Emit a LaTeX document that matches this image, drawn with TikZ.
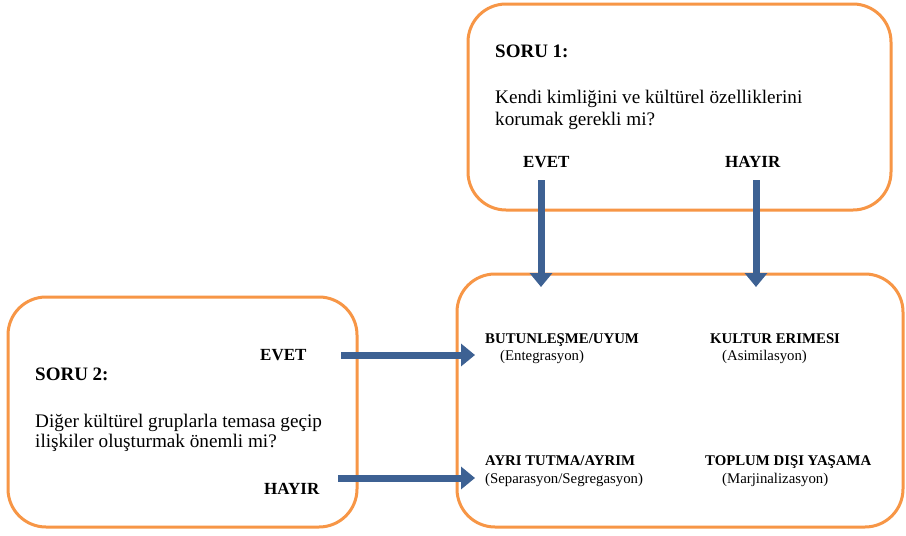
\documentclass[tikz,border=0pt]{standalone}
\usepackage{fontspec}
\setmainfont{Liberation Serif}
\usetikzlibrary{arrows.meta}
\definecolor{boxorange}{HTML}{F79646}
\definecolor{arrowblue}{HTML}{3D6193}
\tikzset{
  qbox/.style={draw=boxorange, line width=3pt, rounded corners=38pt},
  bigtxt/.style={anchor=base west, inner sep=0pt, font=\fontsize{19.2}{22}\selectfont},
  bigbold/.style={anchor=base west, inner sep=0pt, font=\fontsize{19}{22}\selectfont\bfseries},
  lblbold/.style={anchor=base west, inner sep=0pt, font=\fontsize{17}{20}\selectfont\bfseries},
  smallbold/.style={anchor=base west, inner sep=0pt, font=\fontsize{14.8}{17}\selectfont\bfseries},
  smalltxt/.style={anchor=base west, inner sep=0pt, font=\fontsize{14.8}{17}\selectfont},
  bluearrow/.style={draw=arrowblue, line width=7pt, -{Triangle[width=22pt,length=14pt]}},
}
\begin{document}
\begin{tikzpicture}[x=1pt,y=-1pt]
\useasboundingbox[fill=white] (0,0) rectangle (906,536);
% boxes
\draw[qbox] (468,4) rectangle (891,210);
\draw[qbox] (457,274) rectangle (903,527);
\draw[qbox] (8,297) rectangle (357,527);
% question 1
\node[bigbold] (s1) at (495,57) {SORU 1:};
\node[bigtxt] (q1a) at (495,103) {Kendi kimliğini ve kültürel özelliklerini};
\node[bigtxt] (q1b) at (495,125) {korumak gerekli mi?};
\node[lblbold] (e1) at (523,167) {EVET};
\node[lblbold] (h1) at (725,167) {HAYIR};
% question 2
\node[lblbold] (e2) at (260,360) {EVET};
\node[bigbold] (s2) at (35,380) {SORU 2:};
\node[bigtxt] (q2a) at (35,427) {Diğer kültürel gruplarla temasa geçip};
\node[bigtxt] (q2b) at (35,447) {ilişkiler oluşturmak önemli mi?};
\node[lblbold] (h2) at (264,494) {HAYIR};
% outcomes
\node[smallbold] (o1) at (485,343) {BUTUNLEŞME/UYUM};
\node[smalltxt] (o1s) at (500,360) {(Entegrasyon)};
\node[smallbold] (o2) at (710,343) {KULTUR ERIMESI};
\node[smalltxt] (o2s) at (722,360) {(Asimilasyon)};
\node[smallbold] (o3) at (485,465) {AYRI TUTMA/AYRIM};
\node[smalltxt] (o3s) at (485,483) {(Separasyon/Segregasyon)};
\node[smallbold] (o4) at (705,465) {TOPLUM DIŞI YAŞAMA};
\node[smalltxt] (o4s) at (722,483) {(Marjinalizasyon)};
% arrow endpoints
\coordinate (a1s) at (541,180);
\coordinate (a1e) at (541,287);
\coordinate (a2s) at (756,180);
\coordinate (a2e) at (756,287);
\coordinate (a3s) at (341,355);
\coordinate (a3e) at (475,355);
\coordinate (a4s) at (338,478);
\coordinate (a4e) at (475,478);
\draw[bluearrow] (a1s) -- (a1e);
\draw[bluearrow] (a2s) -- (a2e);
\draw[bluearrow] (a3s) -- (a3e);
\draw[bluearrow] (a4s) -- (a4e);
\end{tikzpicture}
\end{document}
